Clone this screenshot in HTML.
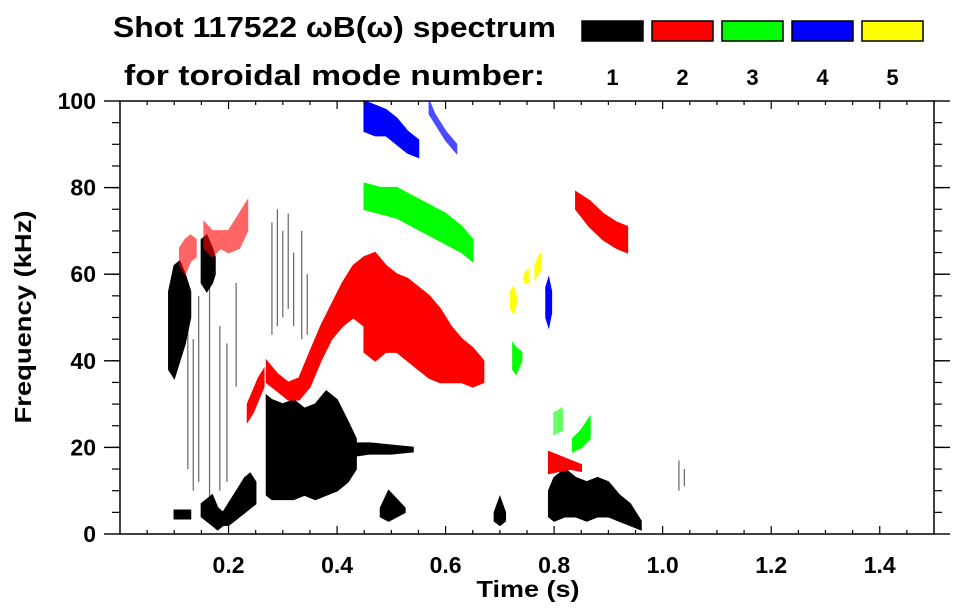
<!DOCTYPE html>
<html><head><meta charset="utf-8">
<style>
html,body{margin:0;padding:0;background:#fff;}
svg{display:block;font-family:"Liberation Sans",sans-serif;font-weight:bold;}
</style></head>
<body>
<svg id="chart" width="963" height="615" viewBox="0 0 963 615" xmlns="http://www.w3.org/2000/svg">
  <text x="113" y="37" font-size="29" textLength="443" lengthAdjust="spacingAndGlyphs">Shot 117522 ωB(ω) spectrum</text>
  <text x="124" y="85" font-size="29" textLength="421" lengthAdjust="spacingAndGlyphs">for toroidal mode number:</text>
  <g id="legend"></g>
  <g id="marks"></g>
  <g id="axes"></g>
  <text x="528" y="597" font-size="23" text-anchor="middle" textLength="103" lengthAdjust="spacingAndGlyphs">Time (s)</text>
  <text transform="translate(31,317) rotate(-90)" font-size="23" text-anchor="middle" textLength="213" lengthAdjust="spacingAndGlyphs">Frequency (kHz)</text>
</svg>
<script>
// ---- axis data ----
const xTicks = [0.2, 0.4, 0.6, 0.8, 1.0, 1.2, 1.4];
const xTickLabels = ["0.2","0.4","0.6","0.8","1.0","1.2","1.4"];
const yTicks = [0, 20, 40, 60, 80, 100];
const yTickLabels = ["0","20","40","60","80","100"];
const modeNumbers = ["1","2","3","4","5"];
const modeColors = ["#000000","#ff0000","#00ff00","#0000ff","#ffff00"];

// ---- mode 1 (black) blobs: time, low freq, high freq ----
const m1a_t = [0.09,0.10,0.11,0.12,0.13];
const m1a_lo = [38,36,40,44,50];
const m1a_hi = [56,62,63,60,56];
const m1b_t = [0.15,0.16,0.17,0.175];
const m1b_lo = [58,56,58,60];
const m1b_hi = [68,69,66,64];
const m1c_t = [0.15,0.16,0.17,0.18,0.19,0.20,0.21,0.22,0.23,0.24,0.25];
const m1c_lo = [4,3,2,1,2,2,3,4,5,6,7];
const m1c_hi = [7,8,9,6,5,7,9,11,13,14,12];
const m1d_t = [0.27,0.28,0.30,0.32,0.34,0.36,0.38,0.40,0.42,0.435];
const m1d_lo = [9,8,8,8,9,8,9,10,12,15];
const m1d_hi = [32,31,30,31,29,30,33,31,26,22];
const m1e_t = [0.43,0.46,0.50,0.54];
const m1e_lo = [18,18.5,18.5,19];
const m1e_hi = [21,21,20.5,20];
const m1f_t = [0.48,0.495,0.51,0.525];
const m1f_lo = [4,3,4,5];
const m1f_hi = [6,10,8,6];
const m1g_t = [0.69,0.70,0.71];
const m1g_lo = [3,2,3];
const m1g_hi = [5,8.5,5];
const m1h_t = [0.79,0.80,0.82,0.84,0.86,0.88,0.90,0.92,0.94,0.96];
const m1h_lo = [4,3,4,4,3,4,4,3,2,1];
const m1h_hi = [10,13,15,13,12,13,12,9,7,3];
const m1i_t = [0.10,0.13];
const m1i_lo = [3.5,3.5];
const m1i_hi = [5.5,5.5];
// thin strands (mode 1)
const m1s_t = [0.125,0.135,0.145,0.165,0.184,0.197,0.214,0.28,0.29,0.30,0.31,0.32,0.335,0.345,1.03,1.04];
const m1s_lo = [15,10,12,5,10,12,34,46,48,50,52,48,45,46,10,11];
const m1s_hi = [50,45,55,60,48,44,58,72,75,70,74,65,70,60,17,15];

// ---- mode 2 (red) ----
const m2a_t = [0.11,0.12,0.13,0.14];
const m2a_lo = [62,60,63,64];
const m2a_hi = [66,68,69,68];
const m2b_t = [0.155,0.17,0.185,0.20,0.22,0.235];
const m2b_lo = [66,64,66,65,66,70];
const m2b_hi = [72,70,70,70,74,77];
const m2c_t = [0.235,0.245,0.255,0.265];
const m2c_lo = [26,28,31,34];
const m2c_hi = [30,33,36,38];
const m2d_t = [0.27,0.29,0.31,0.33,0.35,0.37,0.39,0.41,0.43,0.45];
const m2d_lo = [35,33,31,31,34,40,45,48,50,48];
const m2d_hi = [40,37,35,36,42,48,53,58,62,64];
const m2e_t = [0.45,0.47,0.49,0.51,0.53,0.55,0.57,0.59,0.61,0.63,0.65,0.67];
const m2e_lo = [42,40,42,42,40,38,36,35,35,35,34,35];
const m2e_hi = [64,65,62,60,59,57,55,52,48,45,43,40];
const m2f_t = [0.84,0.865,0.89,0.915,0.935];
const m2f_lo = [75,71,68,66,65];
const m2f_hi = [79,77,74,72,71];
const m2g_t = [0.79,0.81,0.83,0.85];
const m2g_lo = [14,14.5,15,14.5];
const m2g_hi = [19,18,17,16];

// ---- mode 3 (green) ----
const m3a_t = [0.45,0.48,0.51,0.54,0.57,0.60,0.63,0.65];
const m3a_lo = [75,74,73,71,69,67,65,63];
const m3a_hi = [81,80,80,78,76,74,71,68];
const m3b_t = [0.724,0.73,0.74];
const m3b_lo = [38,37,40];
const m3b_hi = [44,43,42];
const m3c_t = [0.834,0.85,0.866];
const m3c_lo = [19,20,22];
const m3c_hi = [22,24,27];
const m3d_t = [0.80,0.815];
const m3d_lo = [23,24];
const m3d_hi = [28,29];

// ---- mode 4 (blue) ----
const m4a_t = [0.45,0.47,0.49,0.51,0.53,0.55];
const m4a_lo = [93,92,92,90,88,87];
const m4a_hi = [100,99,98,96,93,91];
const m4b_t = [0.57,0.58,0.60,0.62];
const m4b_lo = [97,95,91,88];
const m4b_hi = [100,97,93,90];
const m4c_t = [0.785,0.79,0.795];
const m4c_lo = [50,48,51];
const m4c_hi = [57,59,56];

// ---- mode 5 (yellow) ----
const m5a_t = [0.72,0.725,0.73];
const m5a_lo = [52,51,53];
const m5a_hi = [56,57,55];
const m5b_t = [0.745,0.752];
const m5b_lo = [58,58];
const m5b_hi = [60,61];
const m5c_t = [0.765,0.775];
const m5c_lo = [59,61];
const m5c_hi = [62,65];

const NS = "http://www.w3.org/2000/svg";
const X0 = 120, X1 = 934, Y0 = 534, Y1 = 101;
const tMax = 1.5, fMax = 100;
function xs(t){ return X0 + t/tMax*(X1-X0); }
function ys(f){ return Y0 - f/fMax*(Y0-Y1); }
function mk(tag, attrs, parent){
  const e = document.createElementNS(NS, tag);
  for (const k in attrs) e.setAttribute(k, attrs[k]);
  parent.appendChild(e);
  return e;
}
const marks = document.getElementById('marks');
const axes = document.getElementById('axes');
const legend = document.getElementById('legend');

function blob(t, lo, hi, color, name, op){
  let pts = [];
  for (let i=0;i<t.length;i++) pts.push(xs(t[i]).toFixed(1)+","+ys(hi[i]).toFixed(1));
  for (let i=t.length-1;i>=0;i--) pts.push(xs(t[i]).toFixed(1)+","+ys(lo[i]).toFixed(1));
  const p = mk('polygon', {points: pts.join(' '), fill: color, stroke: color, 'stroke-width': 1.5, opacity: op || 1}, marks);
  
  
}
function strands(t, lo, hi, color, name){
  for (let i=0;i<t.length;i++){
    const l = mk('line', {x1: xs(t[i]), x2: xs(t[i]), y1: ys(lo[i]), y2: ys(hi[i]), stroke: color, 'stroke-width': 1.2, opacity: 0.6}, marks);
    
    
  }
}
const K = modeColors;
blob(m1a_t,m1a_lo,m1a_hi,K[0],'mode1-blob-a');
blob(m1b_t,m1b_lo,m1b_hi,K[0],'mode1-blob-b');
blob(m1c_t,m1c_lo,m1c_hi,K[0],'mode1-blob-c');
blob(m1d_t,m1d_lo,m1d_hi,K[0],'mode1-blob-d');
blob(m1e_t,m1e_lo,m1e_hi,K[0],'mode1-blob-e');
blob(m1f_t,m1f_lo,m1f_hi,K[0],'mode1-blob-f');
blob(m1g_t,m1g_lo,m1g_hi,K[0],'mode1-blob-g');
blob(m1h_t,m1h_lo,m1h_hi,K[0],'mode1-blob-h');
blob(m1i_t,m1i_lo,m1i_hi,K[0],'mode1-blob-i');
strands(m1s_t,m1s_lo,m1s_hi,K[0],'mode1-strand');
blob(m2a_t,m2a_lo,m2a_hi,K[1],'mode2-blob-a',0.6);
blob(m2b_t,m2b_lo,m2b_hi,K[1],'mode2-blob-b',0.6);
blob(m2c_t,m2c_lo,m2c_hi,K[1],'mode2-blob-c');
blob(m2d_t,m2d_lo,m2d_hi,K[1],'mode2-blob-d');
blob(m2e_t,m2e_lo,m2e_hi,K[1],'mode2-blob-e');
blob(m2f_t,m2f_lo,m2f_hi,K[1],'mode2-blob-f');
blob(m2g_t,m2g_lo,m2g_hi,K[1],'mode2-blob-g');
blob(m3a_t,m3a_lo,m3a_hi,K[2],'mode3-blob-a');
blob(m3b_t,m3b_lo,m3b_hi,K[2],'mode3-blob-b');
blob(m3c_t,m3c_lo,m3c_hi,K[2],'mode3-blob-c');
blob(m3d_t,m3d_lo,m3d_hi,K[2],'mode3-blob-d',0.6);
blob(m4a_t,m4a_lo,m4a_hi,K[3],'mode4-blob-a');
blob(m4b_t,m4b_lo,m4b_hi,K[3],'mode4-blob-b',0.7);
blob(m4c_t,m4c_lo,m4c_hi,K[3],'mode4-blob-c');
blob(m5a_t,m5a_lo,m5a_hi,K[4],'mode5-blob-a');
blob(m5b_t,m5b_lo,m5b_hi,K[4],'mode5-blob-b');
blob(m5c_t,m5c_lo,m5c_hi,K[4],'mode5-blob-c');

// ---- axes ----
const frame = mk('rect', {x: X0, y: Y1, width: X1-X0, height: Y0-Y1, fill: 'none', stroke: '#000', 'stroke-width': 1.5}, axes);


for (let k=1; k*0.05 < tMax; k++){
  const t = k*0.05, major = (k%4===0), len = major ? 8 : 4;
  const x = xs(t);
  const tb = mk('line', {x1:x, x2:x, y1:Y0, y2:Y0-len, stroke:'#000','stroke-width':1.2}, axes);
  
  
  const tt = mk('line', {x1:x, x2:x, y1:Y1, y2:Y1+len, stroke:'#000','stroke-width':1.2}, axes);
  
  
}
for (let k=1; k*5 < fMax; k++){
  const f = k*5, len = 8;
  const y = ys(f);
  const tl = mk('line', {x1:X0-len, x2:X0, y1:y, y2:y, stroke:'#000','stroke-width':1.2}, axes);
  
  
  const tr = mk('line', {x1:X1, x2:X1+len, y1:y, y2:y, stroke:'#000','stroke-width':1.2}, axes);
  
  
}
yTicks.forEach((f,i)=>{
  const y = ys(f);
  const tl = mk('line', {x1:X0-16, x2:X0, y1:y, y2:y, stroke:'#000','stroke-width':1.4}, axes);
  
  
  const tr = mk('line', {x1:X1, x2:X1+16, y1:y, y2:y, stroke:'#000','stroke-width':1.4}, axes);
  
  
  const lb = mk('text', {x: 96, y: y+8, 'font-size': 23, 'text-anchor': 'end'}, axes);
  lb.textContent = yTickLabels[i];
  
  
});
xTicks.forEach((t,i)=>{
  const lb = mk('text', {x: xs(t), y: 573, 'font-size': 23, 'text-anchor': 'middle'}, axes);
  lb.textContent = xTickLabels[i];
  
  
});

// ---- legend ----
modeNumbers.forEach((m,i)=>{
  const x = 582 + i*70;
  const r = mk('rect', {x: x, y: 21, width: 61, height: 20, fill: modeColors[i], stroke: '#000', 'stroke-width': 1.5}, legend);
  
  
  const tx = mk('text', {x: x+30.5, y: 85, 'font-size': 22, 'text-anchor': 'middle'}, legend);
  tx.textContent = m;
  
  
});
</script>
</body></html>
